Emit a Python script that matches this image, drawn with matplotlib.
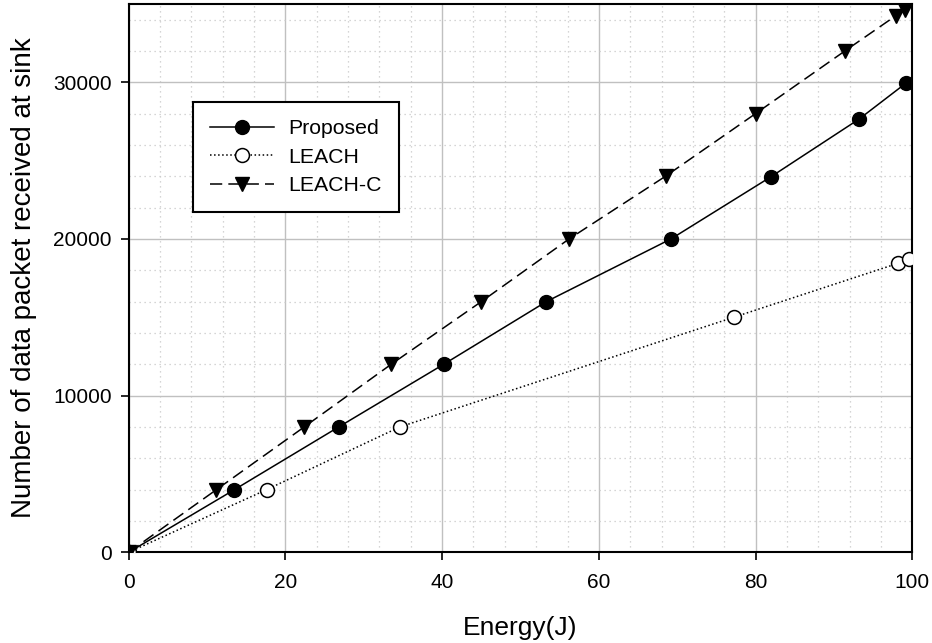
import matplotlib.pyplot as plt
from matplotlib.ticker import MultipleLocator

plt.rcParams['font.family'] = ['Liberation Sans', 'DejaVu Sans']

# Energy (J) vs packets received
prop_x = [0, 13.5, 26.8, 40.2, 53.3, 69.2, 81.9, 93.2, 99.2]
prop_y = [0, 4000, 8000, 12000, 16000, 20000, 23950, 27650, 29950]

leach_x = [0, 17.6, 34.6, 77.2, 98.2, 99.5]
leach_y = [0, 4000, 8000, 15000, 18450, 18700]

leachc_x = [0, 11.2, 22.4, 33.5, 45.0, 56.2, 68.5, 80.0, 91.4, 97.9, 99.1]
leachc_y = [0, 4000, 8000, 12000, 16000, 20000, 24000, 28000, 32000, 34250, 34600]

fig = plt.figure(figsize=(9.32, 6.43), dpi=100)
ax = fig.add_axes([0.138, 0.141, 0.841, 0.853])

ax.plot(prop_x, prop_y, '-', color='black', lw=1.1, marker='o', ms=10,
        mfc='black', mec='black', label='Proposed', zorder=3)
ax.plot(leach_x, leach_y, ':', color='black', lw=1.1, marker='o', ms=10,
        mfc='white', mec='black', mew=1.1, label='LEACH', zorder=3)
ax.plot(leachc_x, leachc_y, color='black', lw=1.1, ls=(0, (8, 4)), marker='v', ms=10,
        mfc='black', mec='black', label='LEACH-C', zorder=3)

ax.set_xlim(0, 100)
ax.set_ylim(0, 35000)
ax.xaxis.set_major_locator(MultipleLocator(20))
ax.xaxis.set_minor_locator(MultipleLocator(4))
ax.yaxis.set_major_locator(MultipleLocator(10000))
ax.yaxis.set_minor_locator(MultipleLocator(2000))

ax.grid(which='major', color='#c0c0c0', lw=1.0, ls='-')
ax.grid(which='minor', color='#c8c8c8', lw=0.9, ls=(0, (1, 3)))
ax.set_axisbelow(True)

ax.tick_params(which='major', direction='out', length=6, width=1.2, labelsize=15,
               top=False, right=False, pad=6)
ax.tick_params(axis='x', which='major', pad=9)
ax.tick_params(which='minor', length=0)
for s in ax.spines.values():
    s.set_linewidth(1.5)

ax.set_xlabel('Energy(J)', fontsize=19, labelpad=17)
ax.set_ylabel('Number of data packet received at sink', fontsize=20, labelpad=12)

leg = ax.legend(loc='upper left', bbox_to_anchor=(0.082, 0.821), fontsize=15.3,
                frameon=True, fancybox=False, framealpha=1, edgecolor='black',
                borderpad=0.8, handlelength=3.0, handletextpad=0.7,
                labelspacing=0.45, borderaxespad=0)
leg.get_frame().set_linewidth(1.5)

fig.savefig('out.png', dpi=100)
